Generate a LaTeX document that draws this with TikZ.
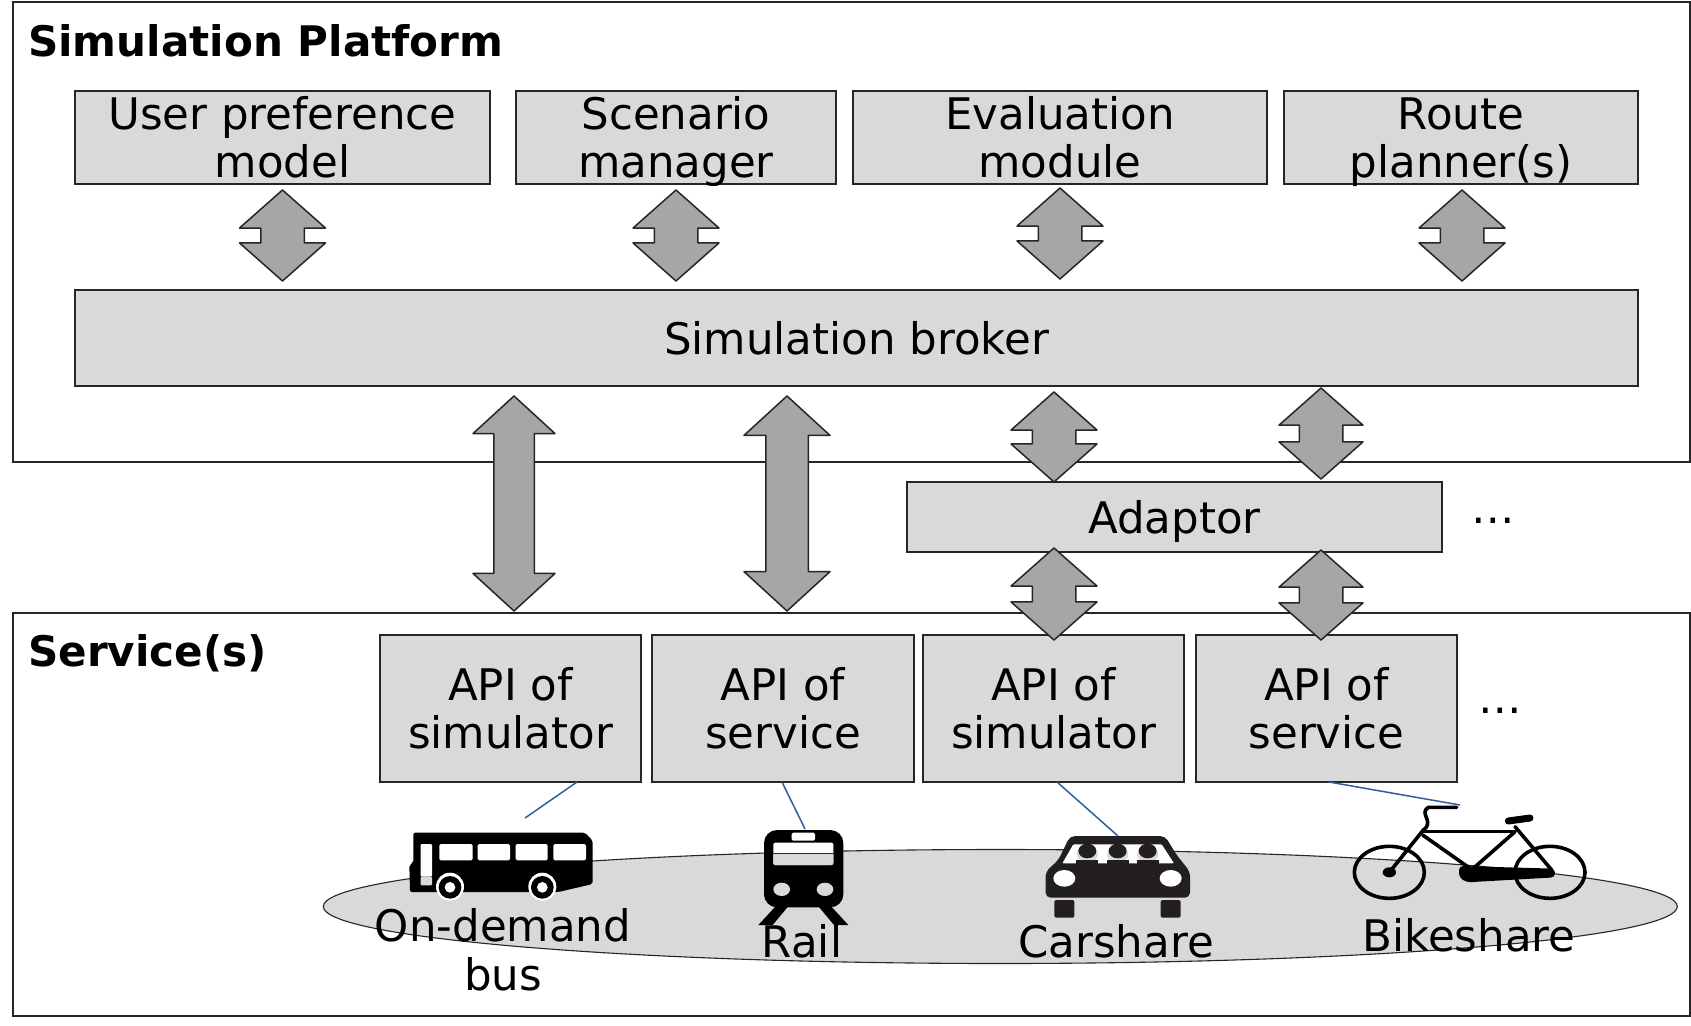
\documentclass[tikz,border=0pt]{standalone}
\usepackage{fontspec}
\setmainfont{DejaVu Sans}
\usetikzlibrary{shapes.arrows,shapes.geometric}
\definecolor{boxgray}{HTML}{D9D9D9}
\definecolor{arrowgray}{HTML}{A6A6A6}
\definecolor{edgegray}{HTML}{262626}
\definecolor{linkblue}{HTML}{2F5F9E}
\definecolor{cardark}{HTML}{231F20}
\newcommand{\ls}[1]{\raisebox{0pt}[34pt][2pt]{#1}}
\newcommand{\shaftA}{\rule{0pt}{42pt}}
\newcommand{\shaftB}{\rule{0pt}{39pt}}
\tikzset{
  frame/.style={draw=edgegray,line width=1.5pt,fill=white,inner sep=0pt,outer sep=0pt},
  graybox/.style={draw=edgegray,line width=1.4pt,fill=boxgray,inner sep=0pt,outer sep=0pt,align=center,font=\fontsize{43.5}{48.5}\selectfont},
  blockarrow/.style={shape=double arrow,draw=edgegray,line width=1.5pt,fill=arrowgray,rotate=90,
     inner sep=0pt,outer sep=0pt,line join=round,double arrow tip angle=97},
  smallarrow/.style={blockarrow,minimum width=84.5pt,double arrow head extend=21.25pt},
  smallarrowb/.style={blockarrow,minimum width=82.5pt,double arrow head extend=20.25pt},
  tallarrow/.style={blockarrow,minimum height=215pt,double arrow tip angle=95},
  title/.style={anchor=west,inner sep=0pt,font=\fontsize{42.1}{48}\selectfont\bfseries},
  label/.style={inner sep=0pt,align=center,font=\fontsize{43.5}{48.5}\selectfont},
  dots/.style={inner sep=0pt,font=\fontsize{43.5}{48}\selectfont},
  link/.style={draw=linkblue,line width=1.5pt},
  icon/.style={fill=black,draw=none},
  bikeline/.style={draw=black,line width=3.6pt,line cap=round,line join=round},
}
\begin{document}
\begin{tikzpicture}[x=1pt,y=-1pt]
\useasboundingbox (0,0) rectangle (1691,1025);
\fill[white] (0,0) rectangle (1691,1025);
% frames
\node[frame,minimum width=1677pt,minimum height=460pt] (platform) at (851.5,232) {};
\node[frame,minimum width=1677pt,minimum height=403pt] (services) at (851.5,814.5) {};
\node[title] (ptitle) at (28,41) {Simulation Platform};
\node[title] (stitle) at (28,653) {Service(s)};
% top boxes
\node[graybox,minimum width=415pt,minimum height=93pt] (user) at (282.5,137.5) {\ls{User preference}\\\ls{model}};
\node[graybox,minimum width=320pt,minimum height=93pt] (scen) at (676,137.5) {\ls{Scenario}\\\ls{manager}};
\node[graybox,minimum width=414pt,minimum height=93pt] (eval) at (1060,137.5) {\ls{Evaluation}\\\ls{module}};
\node[graybox,minimum width=354pt,minimum height=93pt] (route) at (1461,137.5) {\ls{Route}\\\ls{planner(s)}};
\node[graybox,minimum width=1563pt,minimum height=96pt] (broker) at (856.5,338) {\ls{Simulation broker}};
\node[graybox,minimum width=535pt,minimum height=70pt] (adaptor) at (1174.5,517) {\ls{Adaptor}};
\node[dots] (dotsa) at (1493,521) {…};
% ellipse
\node[draw=edgegray,line width=1.1pt,fill=boxgray,shape=ellipse,minimum width=1354pt,minimum height=114pt,inner sep=0pt,outer sep=0pt] (field) at (1000.3,906.5) {};
% API boxes
\node[graybox,minimum width=261pt,minimum height=147pt] (api1) at (510.5,708.5) {\ls{API of}\\\ls{simulator}};
\node[graybox,minimum width=262pt,minimum height=147pt] (api2) at (783,708.5) {\ls{API of}\\\ls{service}};
\node[graybox,minimum width=261pt,minimum height=147pt] (api3) at (1053.5,708.5) {\ls{API of}\\\ls{simulator}};
\node[graybox,minimum width=261pt,minimum height=147pt] (api4) at (1326.5,708.5) {\ls{API of}\\\ls{service}};
\node[dots] (dotsb) at (1500,711) {…};
% block arrows
\node[smallarrow,minimum height=91pt] (s1) at (282.5,235.5) {\shaftA};
\node[smallarrow,minimum height=91pt] (s2) at (676,235.5) {\shaftA};
\node[smallarrow,minimum height=91pt] (s3) at (1060,233.5) {\shaftA};
\node[smallarrow,minimum height=91pt] (s4) at (1462,235.5) {\shaftA};
\node[smallarrow,minimum height=90pt] (m1) at (1054,437) {\shaftA};
\node[smallarrowb,minimum height=91pt] (m2) at (1321,433.5) {\shaftA};
\node[smallarrow,minimum height=92pt] (l1) at (1054,594) {\shaftA};
\node[smallarrowb,minimum height=90pt] (l2) at (1321,595) {\shaftA};
\node[tallarrow,minimum width=80.5pt,double arrow head extend=20.75pt] (t1) at (514,503.5) {\shaftB};
\node[tallarrow,minimum width=84.5pt,double arrow head extend=21.75pt] (t2) at (787,503.5) {\rule{0pt}{41pt}};
% links
\coordinate (busend) at (525,818);
\coordinate (railend) at (805,829);
\coordinate (carend) at (1118,836);
\coordinate (bikeend) at (1460,805);
\draw[link] ([xshift=66.5pt]api1.south) -- (busend);
\draw[link] ([xshift=-1pt]api2.south) -- (railend);
\draw[link] ([xshift=3.5pt]api3.south) -- (carend);
\draw[link] ([xshift=2.5pt]api4.south) -- (bikeend);
% bus and rail icons (zoomed coordinates)
\begin{scope}[shift={(380,770)},x=0.33333pt,y=-0.33333pt]
  \fill[icon,rounded corners=2pt] (100,188) -- (615,188) -- (638,212) -- (638,342) -- (535,366) -- (90,366) -- (88,285) -- (100,278) -- cycle;
  \foreach \a/\b in {178/278,293/390,407/503,520/618}
    \fill[white,rounded corners=1.5pt] (\a,222) rectangle (\b,271);
  \fill[white,rounded corners=1pt] (122,222) rectangle (156,320);
  \fill[boxgray,rounded corners=1pt] (122,320) rectangle (156,346);
  \foreach \c in {210,487} {
    \fill[white] (\c,350) circle (42);
    \fill[black] (\c,352) circle (34);
    \fill[white] (\c,352) circle (16);
  }
  % rail
  \fill[icon,rounded corners=13pt] (1152,180) rectangle (1390,412);
  \fill[white,rounded corners=1.5pt] (1235,188) rectangle (1305,212);
  \fill[white,rounded corners=2pt] (1180,218) rectangle (1360,285);
  \fill[boxgray,rounded corners=2pt] (1180,250) rectangle (1360,285);
  \draw[edgegray,line width=0.8pt] (1180,250) -- (1360,250);
  \fill[boxgray] (1205,358) ellipse [x radius=25,y radius=20];
  \fill[boxgray] (1335,358) ellipse [x radius=25,y radius=20];
  \fill[icon] (1195,400) -- (1135,465) -- (1178,465) -- (1228,405) -- cycle;
  \fill[icon] (1345,400) -- (1405,465) -- (1362,465) -- (1312,405) -- cycle;
\end{scope}
% car icon
\begin{scope}[shift={(1030,775)},x=0.33333pt,y=-0.33333pt]
  \fill[cardark,rounded corners=5pt] (120,183) -- (405,183) -- (440,240) -- (480,290) -- (480,368) -- (47,368) -- (47,290) -- (85,255) -- cycle;
  \fill[white,rounded corners=1pt] (130,208) -- (395,208) -- (432,265) -- (97,265) -- cycle;
  \foreach \c in {172,263,353} {
    \fill[boxgray] (\c,238) ellipse [x radius=32,y radius=24];
    \fill[cardark] (\c,228) ellipse [x radius=27,y radius=22];
    \fill[cardark] (\c-33,255) rectangle (\c+33,268);
  }
  \fill[white] (103,310) ellipse [x radius=33,y radius=25];
  \fill[white] (422,310) ellipse [x radius=33,y radius=25];
  \fill[cardark,rounded corners=2pt] (73,375) rectangle (133,428);
  \fill[cardark,rounded corners=2pt] (392,375) rectangle (452,428);
\end{scope}
% bike icon
\begin{scope}[shift={(1340,790)},x=0.33333pt,y=-0.33333pt]
  \draw[bikeline] (148,247) ellipse [x radius=105,y radius=78];
  \draw[bikeline] (630,247) ellipse [x radius=105,y radius=78];
  \fill[black] (148,247) ellipse [x radius=20,y radius=15];
  \draw[bikeline] (148,247) -- (250,120) .. controls (285,95) and (235,70) .. (265,52) -- (350,52);
  \draw[bikeline] (250,125) -- (525,125);
  \draw[bikeline] (248,135) -- (390,235);
  \draw[bikeline] (525,125) -- (400,235);
  \draw[bikeline] (525,110) -- (635,240);
  \fill[black,rounded corners=4pt] (357,228) -- (645,236) -- (645,262) -- (380,277) -- (357,262) -- cycle;
  \draw[black,line width=7pt,line cap=round] (505,93) -- (570,84);
\end{scope}
% labels
\node[label] (lbus) at (503,950) {\ls{On-demand}\\\ls{bus}};
\node[label] (lrail) at (802,941) {\ls{Rail}};
\node[label] (lcar) at (1116,941) {\ls{Carshare}};
\node[label] (lbike) at (1469,935) {\ls{Bikeshare}};
\end{tikzpicture}
\end{document}
